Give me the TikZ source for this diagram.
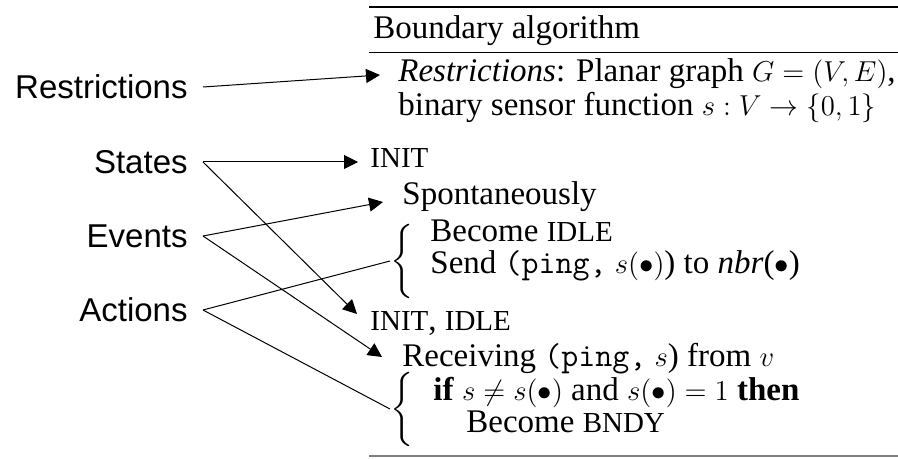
\documentclass[tikz,border=0pt]{standalone}
\usepackage[no-math]{fontspec}
\setmainfont{Liberation Serif}
\setsansfont{Liberation Sans}
\usepackage{amsmath,amssymb}
\usetikzlibrary{arrows.meta}
\usetikzlibrary{positioning}
\DeclareMathSizes{16.5}{15.5}{11}{8}
\newcommand{\stname}[1]{{\fontsize{14.5}{16}\selectfont #1}}
\newcommand{\msg}[1]{\texttt{#1}}

\tikzset{
  label/.style={font=\sffamily\fontsize{16.5}{18}\selectfont, anchor=east, inner xsep=7.5pt, inner ysep=0pt},
  line/.style={font=\fontsize{16.5}{18}\selectfont, anchor=base west, inner sep=0pt},
  pointer/.style={line width=0.5pt, -{Triangle[length=7pt,width=7pt]}},
  plain/.style={line width=0.5pt},
  bracenode/.style={font=\fontsize{16.5}{18}\selectfont, anchor=west, inner sep=0pt}
}

\begin{document}
\begin{tikzpicture}[x=0.5pt,y=-0.5pt]
        \useasboundingbox (0,0) rectangle (898,459);
        % rules of the algorithm box
        \draw [line width=1pt] (369,7) -- (898,7);
        \draw [line width=0.5pt] (369,53) -- (898,53);
        \draw [line width=0.6pt, gray] (369,456) -- (898,456);
        % algorithm text
        \node [line] (title) at (373,39){Boundary algorithm};
        \node [line] (restrA) at (398,82){\textit{Restrictions}: Planar graph $G=(V,E)$,};
        \node [line] (restrB) at (398,116){binary sensor function $s:V\rightarrow\{0,1\}$};
        \node [line] (initA) at (370,168){\stname{INIT}};
        \node [line] (spont) at (402,205){Spontaneously};
        \node [line] (becomeA) at (430,242){Become \stname{IDLE}};
        \node [line] (send) at (430,274){Send \msg{(ping,} $s(\bullet)$) to \textit{nbr}($\bullet$)};
        \node [line] (initB) at (370,330){\stname{INIT}, \stname{IDLE}};
        \node [line] (recv) at (402,366){Receiving \msg{(ping,} $s$) from $v$};
        \node [line] (ifline) at (433,400){\textbf{if} $s\neq s(\bullet)$ and $s(\bullet)=1$ \textbf{then}};
        \node [line] (becomeB) at (466,432){Become \stname{BNDY}};
        \node [bracenode] (braceA) at (390,261){$\left\{\vrule height 15pt depth 15pt width 0pt\right.$};
        \node [bracenode] (braceB) at (390,409){$\left\{\vrule height 15pt depth 15pt width 0pt\right.$};
        % left labels
        \node [label] (restrictions) at (203,87){Restrictions};
        \node [label] (states) at (203,162){States};
        \node [label] (events) at (203,236){Events};
        \node [label] (actions) at (203,310){Actions};
        % arrow tips
        \coordinate (tipRestr) at (380,75);
        \coordinate (tipInitA) at (358,162);
        \coordinate (tipInitB) at (357,314);
        \coordinate (tipSpont) at (383,202);
        \coordinate (tipRecv) at (382,357);
        % connectors
        \draw [pointer] (restrictions.east) -- (tipRestr);
        \draw [pointer] (states.east) -- (tipInitA);
        \draw [pointer] (states.east) -- (tipInitB);
        \draw [pointer] (events.east) -- (tipSpont);
        \draw [pointer] (events.east) -- (tipRecv);
        \draw [plain] (actions.east) -- (braceA.west);
        \draw [plain] (actions.east) -- (braceB.west);
      \end{tikzpicture}
\end{document}
